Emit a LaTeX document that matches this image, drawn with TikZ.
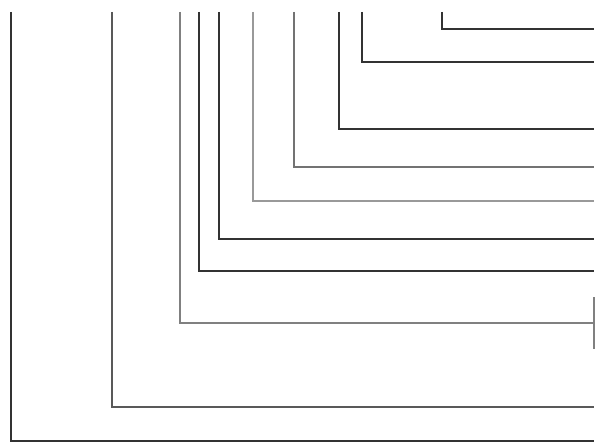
\documentclass[tikz,border=0pt]{standalone}

\begin{document}
\begin{tikzpicture}[x=0.75pt, y=-0.75pt,
	heavy/.style={black!80, line width=1.3pt},
	medium/.style={black!65, line width=1pt},
	light/.style={black!50, line width=0.85pt}]
	\useasboundingbox (0, 0) rectangle (598, 445);

	% nested corners, outermost first
	\draw[heavy]  (11, 12)  -- (11, 441)  -- (594, 441);
	\draw[medium] (112, 12) -- (112, 407) -- (594, 407);
	\draw[light]  (180, 12) -- (180, 323) -- (594, 323);
	\draw[heavy]  (199, 12) -- (199, 271) -- (594, 271);
	\draw[heavy]  (219, 12) -- (219, 239) -- (594, 239);
	\draw[light, black!40]  (253, 12) -- (253, 201) -- (594, 201);
	\draw[medium, black!55] (294, 12) -- (294, 167) -- (594, 167);
	\draw[heavy]  (339, 12) -- (339, 129) -- (594, 129);
	\draw[heavy]  (362, 12) -- (362, 62)  -- (594, 62);
	\draw[heavy]  (442, 12) -- (442, 29)  -- (594, 29);

	% end stop
	\draw[light] (594, 297) -- (594, 349);
\end{tikzpicture}
\end{document}
